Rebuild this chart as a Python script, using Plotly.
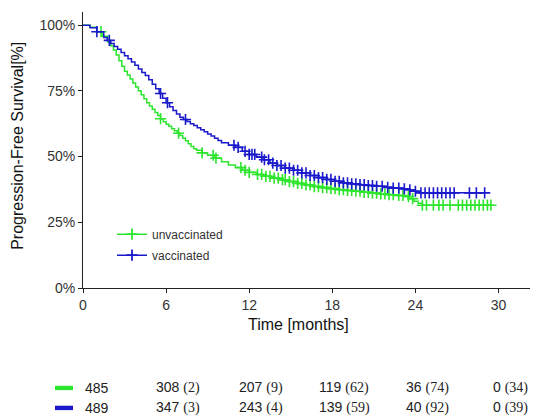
import numpy as np
import plotly.graph_objects as go

# ---------------- data ----------------
groups = ["unvaccinated", "vaccinated"]

unvac_time = [0, 0.5, 1.0, 1.4, 1.8, 2.0, 2.2, 2.4, 2.6, 2.8, 3.0, 3.2, 3.4, 3.6, 3.8,
              4.0, 4.2, 4.4, 4.6, 4.8, 5.0, 5.2, 5.4, 5.6, 5.8, 6.0, 6.2, 6.4, 6.6, 6.8,
              7.0, 7.2, 7.4, 7.6, 7.8, 8.0, 8.2, 8.6, 9.0, 9.5, 10.0, 10.5, 11.0, 11.5,
              12.0, 12.5, 13.0, 13.6, 14.2, 14.8, 15.4, 16.0, 16.6, 17.2, 17.8, 18.4,
              19.0, 19.6, 20.2, 20.8, 21.4, 22.0, 22.6, 23.2, 23.6, 23.9, 24.2, 24.5]
unvac_surv = [100, 99.2, 97.5, 95.8, 93.5, 92.2, 90.5, 88.6, 86.5, 84.4, 82.5, 81.0, 79.5,
              78.0, 76.5, 75.0, 73.5, 72.0, 70.5, 69.2, 68.0, 66.8, 65.6, 64.4, 63.2, 62.3,
              61.5, 60.6, 59.8, 58.9, 58.0, 57.0, 56.0, 54.9, 53.8, 53.0, 52.4, 51.4, 50.5,
              49.4, 48.0, 46.8, 45.8, 44.8, 44.0, 43.2, 42.5, 41.8, 41.2, 40.5, 39.8, 39.2,
              38.6, 38.2, 37.8, 37.4, 37.1, 36.8, 36.4, 36.1, 35.8, 35.5, 35.2, 34.8, 34.0,
              33.0, 32.2, 31.5]
unvac_censor = [1.3, 5.6, 6.9, 8.6, 9.4, 9.6, 11.4, 11.7, 12.0, 12.6, 12.9, 13.2, 13.5,
                13.8, 14.1, 14.4, 14.6, 14.9, 15.2, 15.5, 15.8, 16.1, 16.4, 16.7, 17.0,
                17.3, 17.6, 17.9, 18.2, 18.5, 18.8, 19.1, 19.4, 19.7, 20.0, 20.3, 20.6,
                20.9, 21.2, 21.5, 21.8, 22.1, 22.4, 22.8, 23.1, 23.5, 23.8, 24.5, 24.8,
                25.3, 25.7, 26.0, 26.5, 27.1, 27.4, 27.7, 28.0, 28.3, 28.6, 28.9, 29.2, 29.45]

vac_time = [0, 0.5, 1.0, 1.5, 1.75, 2.0, 2.25, 2.5, 2.75, 3.0, 3.25, 3.5, 3.75, 4.0, 4.25,
            4.5, 4.75, 5.0, 5.25, 5.5, 5.75, 6.0, 6.25, 6.5, 6.75, 7.0, 7.25, 7.5, 7.75,
            8.0, 8.25, 8.5, 8.75, 9.0, 9.25, 9.5, 9.75, 10.0, 10.5, 11.0, 11.5, 12.0, 12.5,
            13.0, 13.5, 14.0, 14.6, 15.2, 15.8, 16.4, 17.0, 17.6, 18.2, 18.8, 19.4, 20.0,
            20.6, 21.2, 21.8, 22.4, 23.0, 23.6, 24.0, 24.3]
vac_surv = [100, 99.0, 97.5, 95.3, 94.2, 93.0, 91.9, 90.8, 89.6, 88.4, 87.2, 86.0, 84.7,
            83.3, 82.0, 80.8, 79.2, 77.5, 75.8, 74.0, 72.2, 70.5, 69.0, 67.5, 66.2, 65.0,
            64.1, 63.3, 62.5, 61.8, 61.0, 60.2, 59.4, 58.6, 57.8, 57.0, 56.1, 55.3, 54.3,
            53.5, 52.0, 50.8, 49.8, 48.8, 47.5, 46.6, 45.6, 44.8, 43.8, 42.8, 42.0, 41.3,
            40.6, 40.0, 39.6, 39.3, 39.0, 38.7, 38.3, 38.0, 37.7, 37.3, 36.8, 36.2]
vac_censor = [1.0, 1.9, 5.6, 6.1, 7.4, 10.9, 11.2, 11.7, 12.0, 12.2, 12.4, 12.9, 13.1,
              13.4, 13.7, 14.0, 14.3, 14.6, 14.9, 15.2, 15.5, 15.8, 16.1, 16.4, 16.7,
              17.0, 17.3, 17.6, 17.9, 18.2, 18.5, 18.8, 19.1, 19.4, 19.7, 20.0, 20.3,
              20.6, 20.9, 21.2, 21.6, 22.0, 22.4, 22.8, 23.2, 23.6, 24.0, 24.4, 24.7,
              25.0, 25.3, 25.6, 25.9, 26.2, 26.5, 26.8, 27.9, 28.4, 29.0]

x_ticks = [0, 6, 12, 18, 24, 30]
y_ticks = [0, 25, 50, 75, 100]

risk_unvac = [485, 308, 207, 119, 36, 0]
cens_unvac = [None, 2, 9, 62, 74, 34]
risk_vac = [489, 347, 243, 139, 40, 0]
cens_vac = [None, 3, 4, 59, 92, 39]

# ---------------- style ----------------
GREEN = "#2ee52e"
BLUE = "#1a1acc"
OFF = 8                      # page body margin
W, H = 538 - OFF, 418 - OFF  # figure size
PLOT_LEFT, PLOT_TOP, PLOT_BOTTOM = 83, 12, 288.4   # in page pixels
L = PLOT_LEFT - OFF
T = PLOT_TOP - OFF
B = H - (PLOT_BOTTOM - OFF)
R = 0
PW, PH = W - L - R, H - T - B
FONT = "Liberation Sans, Arial, sans-serif"


def px_x(p):
    return (p - OFF - L) / PW


def px_y(p):
    return (H - B - (p - OFF)) / PH


def step_value(times, surv, t):
    i = np.searchsorted(np.asarray(times), t, side="right") - 1
    return np.asarray(surv)[i]


fig = go.Figure()

series = [
    (groups[0], unvac_time, unvac_surv, unvac_censor, GREEN),
    (groups[1], vac_time, vac_surv, vac_censor, BLUE),
]

MARK = dict(symbol="cross-thin", size=8)

for k, (name, tt, ss, cc, col) in enumerate(series):
    line_x = list(tt) + [max(cc)]
    line_y = list(ss) + [ss[-1]]
    fig.add_trace(go.Scatter(x=line_x, y=line_y, mode="lines", line=dict(color=col, width=1.5, shape="hv"),
                             showlegend=False, hoverinfo="skip"))
    cy = [float(step_value(tt, ss, c)) for c in cc]
    fig.add_trace(go.Scatter(x=cc, y=cy, mode="markers",
                             marker=dict(**MARK, color=col, line=dict(color=col, width=1.6)),
                             showlegend=False, hoverinfo="skip"))
    # legend entry
    fig.add_trace(go.Scatter(x=[None], y=[None], mode="lines+markers", name=name,
                             legendgroup=name,
                             line=dict(color=col, width=1.6),
                             marker=dict(**MARK, color=col, line=dict(color=col, width=1.8))))

# risk table
row_y = [388.5, 408.5]
bar_colors = [GREEN, BLUE]
rows = [(risk_unvac, cens_unvac), (risk_vac, cens_vac)]
annotations = []
shapes = []
for r, (risk, cens) in enumerate(rows):
    shapes.append(dict(type="rect", xref="paper", yref="paper",
                       x0=px_x(55), x1=px_x(73), y0=px_y(row_y[r] + 2.2), y1=px_y(row_y[r] - 2.2),
                       fillcolor=bar_colors[r], line=dict(width=0)))
    for j, (n, c) in enumerate(zip(risk, cens)):
        if c is None:
            txt = f"{n}"
        else:
            txt = f"{n} <span style='font-family:Liberation Serif'>({c})</span>"
        annotations.append(dict(x=x_ticks[j], y=px_y(row_y[r]), xref="x", yref="paper",
                                text=txt, showarrow=False, xanchor="center", yanchor="middle",
                                xshift=14 if j == 0 else 12,
                                font=dict(family=FONT, size=14, color="#222222")))

annotations.append(dict(x=px_x(298), y=px_y(325), xref="paper", yref="paper", text="Time [months]",
                        showarrow=False, xanchor="center", yanchor="middle",
                        font=dict(family=FONT, size=16, color="#111111")))
annotations.append(dict(x=px_x(18), y=px_y(146), xref="paper", yref="paper",
                        text="Progression-Free Survival[%]", textangle=-90,
                        showarrow=False, xanchor="center", yanchor="middle",
                        font=dict(family=FONT, size=16, color="#111111")))

fig.update_layout(
    width=W, height=H,
    margin=dict(l=L, r=R, t=T, b=B),
    paper_bgcolor="white", plot_bgcolor="white",
    annotations=annotations, shapes=shapes,
    showlegend=True,
    legend=dict(x=px_x(112), y=px_y(220), xanchor="left", yanchor="top",
                bgcolor="rgba(0,0,0,0)", borderwidth=0,
                font=dict(family=FONT, size=12, color="#333333"),
                tracegroupgap=2, itemwidth=30),
    xaxis=dict(range=[0, PW / 13.85], tickvals=x_ticks, ticktext=[str(v) for v in x_ticks],
               showgrid=False, zeroline=False, showline=True, linecolor="#222222", linewidth=1,
               ticks="outside", ticklen=4, tickcolor="#222222",
               tickfont=dict(family=FONT, size=14, color="#333333")),
    yaxis=dict(range=[0, 105], tickvals=y_ticks, ticktext=[f"{v}%" for v in y_ticks],
               showgrid=False, zeroline=False, showline=True, linecolor="#222222", linewidth=1,
               ticks="outside", ticklen=4, tickcolor="#222222",
               tickfont=dict(family=FONT, size=14, color="#333333")),
)

fig.write_html("out.html")
